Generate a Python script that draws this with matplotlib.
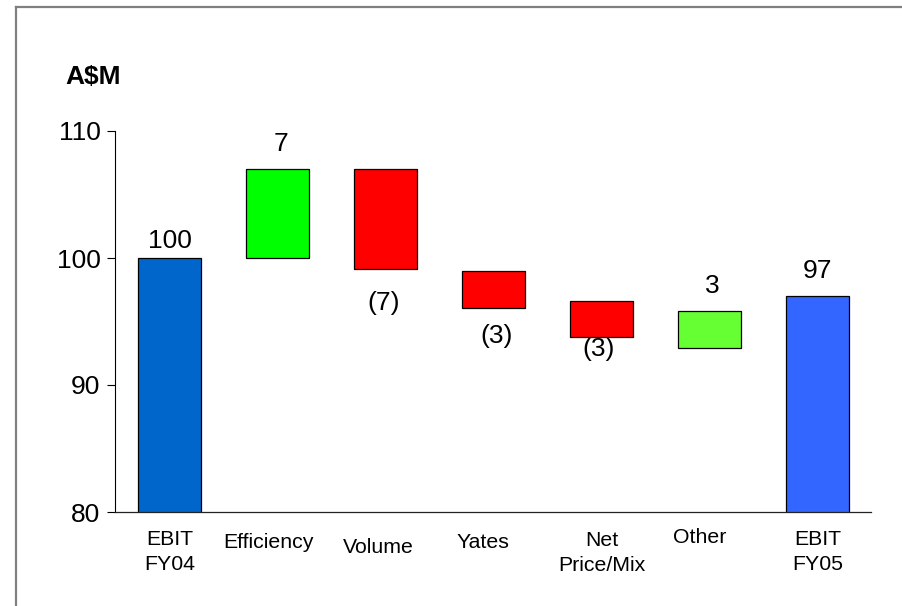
import matplotlib
matplotlib.use("Agg")
import matplotlib.pyplot as plt
from matplotlib.lines import Line2D
import numpy as np

plt.rcParams['font.family'] = ['Liberation Sans', 'DejaVu Sans']

# data (A$M)
categories = ["EBIT\nFY04", "Efficiency", "Volume", "Yates", "Net\nPrice/Mix", "Other", "EBIT\nFY05"]
bar_bottom = [0, 100, 99.1, 96.05, 93.75, 92.9, 0]
bar_top = [100, 107, 107, 99.0, 96.65, 95.8, 97]
value_labels = ["100", "7", "(7)", "(3)", "(3)", "3", "97"]
yticks = [80, 90, 100, 110]

colors = ["#0066CC", "#00FF00", "#FF0000", "#FF0000", "#FF0000", "#66FF33", "#3366FF"]

W, H = 903, 606
fig = plt.figure(figsize=(W / 100, H / 100), dpi=100)
ax = fig.add_axes([115.5 / W, 94 / H, 756 / W, 381 / H])

x = np.arange(len(categories))
heights = np.array(bar_top) - np.array(bar_bottom)
ax.bar(x, heights, bottom=bar_bottom, width=0.58, color=colors,
       edgecolor="black", linewidth=0.9, zorder=2)

ax.set_xlim(-0.5, 6.5)
ax.set_ylim(80, 110)
ax.set_yticks(yticks)
ax.set_yticklabels([str(t) for t in yticks], fontsize=19)
ax.tick_params(axis="y", direction="out", length=5.8, width=0.8, pad=5)
ax.set_xticks([])
for s in ["top", "right"]:
    ax.spines[s].set_visible(False)
ax.spines["left"].set_linewidth(0.8)
ax.spines["bottom"].set_linewidth(0.9)
ax.spines["bottom"].set_color("#222222")

# value labels (pixel nudges: above bar top / below bar bottom, baseline)
lab_dy = [10, 18, -41, -35, -19, 18, 18]
lab_dx = [0, 4, -2, 3, -3, 3, 0]
for i, t in enumerate(value_labels):
    yref = bar_top[i] if lab_dy[i] > 0 else bar_bottom[i]
    ax.annotate(t, xy=(x[i], yref), xytext=(lab_dx[i], lab_dy[i]),
                textcoords="offset pixels", ha="center", va="baseline",
                fontsize=19, annotation_clip=False)

# category labels under the axis
cat_dy = [18, 21, 26, 21, 19, 16, 18]
cat_dx = [0, -9, -7, -11, 0, -10, 0]
for i, c in enumerate(categories):
    ax.annotate(c, xy=(x[i], 0), xycoords=("data", "axes fraction"),
                xytext=(cat_dx[i], -cat_dy[i]), textcoords="offset pixels",
                ha="center", va="top", fontsize=15.3, linespacing=1.42,
                annotation_clip=False)

fig.text(65 / W, 1 - 77 / H, "A$M", fontsize=19, fontweight="bold",
         ha="left", va="center")

# grey frame lines at the top and left of the slide
fig.add_artist(Line2D([16 / W, 16 / W], [0, 1 - 7 / H], color="#808080", lw=1.6,
                      transform=fig.transFigure))
fig.add_artist(Line2D([16 / W, 1], [1 - 7 / H, 1 - 7 / H], color="#808080", lw=1.6,
                      transform=fig.transFigure))

fig.savefig("out.png", dpi=100)
